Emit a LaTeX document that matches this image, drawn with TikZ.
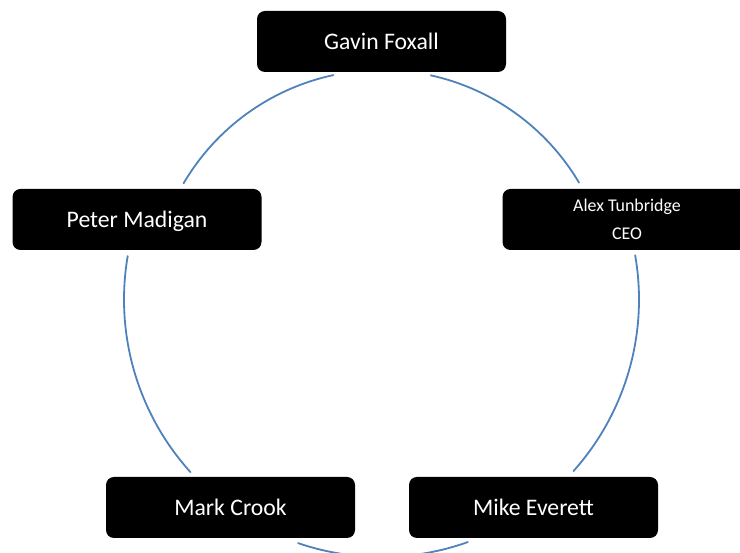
\documentclass[tikz,border=0pt]{standalone}
\usepackage{fontspec}
\setmainfont{Carlito}
\usepackage{tikz}
\usepackage{xcolor}
\definecolor{ringblue}{RGB}{79,129,189}

\begin{document}
\begin{tikzpicture}[x=1pt,y=1pt,line cap=round,
  member/.style={fill=black,text=white,rounded corners=8pt,minimum width=249pt,minimum height=61pt,inner sep=0pt,text height=15.3pt,text depth=0pt,font=\fontsize{23.7}{28}\selectfont},
  ring/.style={ringblue,line width=1.8pt}]
\clip (0,0) rectangle (740,553);
\coordinate (hub) at (381.5,253.5);
% upper arcs
\draw[ring] ([shift={(149.6:229.5)}]hub) arc[start angle=149.6,end angle=102.1,radius=229.5];
\draw[ring] ([shift={(77.6:229.5)}]hub) arc[start angle=77.6,end angle=30.6,radius=229.5];
% lower arcs
\draw[ring] ([shift={(9.9:257.5)}]hub) arc[start angle=9.9,end angle=-41.8,radius=257.5];
\draw[ring] ([shift={(-70.4:257.5)}]hub) arc[start angle=-70.4,end angle=-108.9,radius=257.5];
\draw[ring] ([shift={(222.1:257.5)}]hub) arc[start angle=222.1,end angle=170.3,radius=257.5];
\node[member] (gavin) at (381.5,511.5) {Gavin Foxall};
\node[member,text height=,text depth=,align=center,font=\fontsize{17.9}{28}\selectfont] (alex) at (627,333.5) {Alex Tunbridge\\CEO};
\node[member] (mike) at (533.5,45.5) {Mike Everett};
\node[member] (mark) at (230.5,45.5) {Mark Crook};
\node[member] (peter) at (137,333.5) {Peter Madigan};
\end{tikzpicture}
\end{document}
